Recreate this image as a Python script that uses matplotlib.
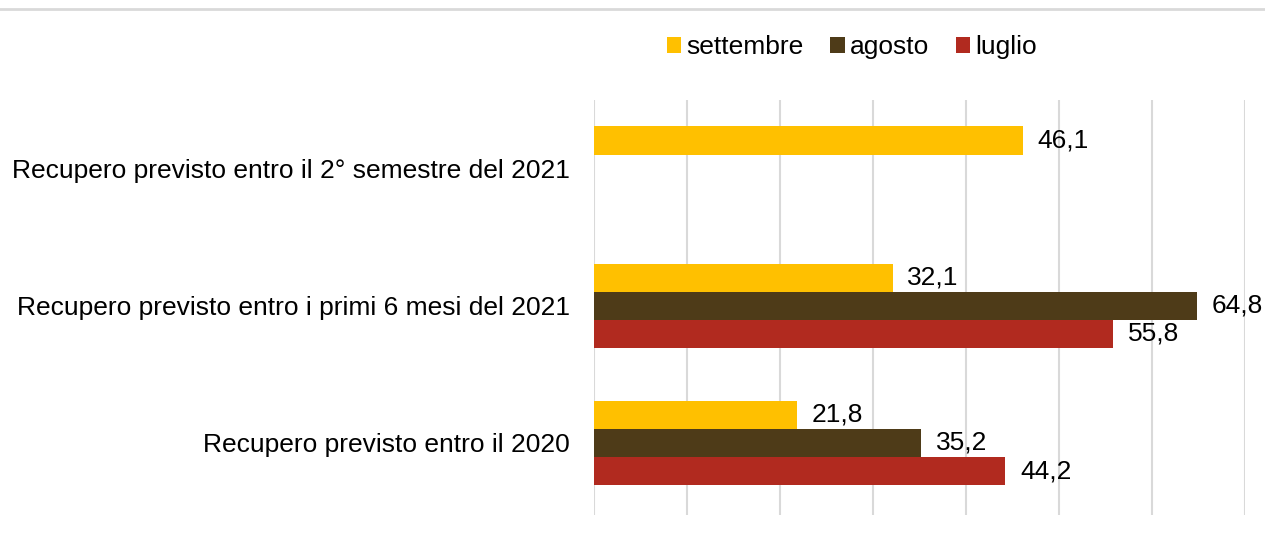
import numpy as np
import matplotlib
matplotlib.use('Agg')
import matplotlib.pyplot as plt
from matplotlib.lines import Line2D

plt.rcParams['font.family'] = ['Liberation Sans', 'DejaVu Sans']

# Data
categories = ['Recupero previsto entro il 2020',
              'Recupero previsto entro i primi 6 mesi del 2021',
              'Recupero previsto entro il 2° semestre del 2021']
series_names = ['settembre', 'agosto', 'luglio']
settembre = [21.8, 32.1, 46.1]
agosto = [35.2, 64.8, np.nan]
luglio = [44.2, 55.8, np.nan]
colors = ['#FFC000', '#4E3B18', '#B12A1F']

fs = 19

fig = plt.figure(figsize=(12.65, 5.34), dpi=100)
ax = fig.add_axes([594 / 1265, 1 - 515 / 534, (1245 - 594) / 1265, (515 - 100) / 534])

y = np.arange(len(categories))
h = 0.205
offsets = [h, 0, -h]
for name, vals, off, col in zip(series_names, [settembre, agosto, luglio], offsets, colors):
    ax.barh(y + off, vals, height=h, color=col, label=name, zorder=3)
    for yi, v in zip(y, vals):
        if not np.isnan(v):
            ax.text(v + 1.6, yi + off, f'{v:.1f}'.replace('.', ','),
                    va='center', ha='left', fontsize=fs, color='#000000')

ax.set_xlim(0, 70)
ax.set_ylim(-0.525, 2.5)
ax.set_xticks(np.arange(0, 71, 10))
ax.xaxis.grid(True, color='#D9D9D9', linewidth=1.5, zorder=0)
ax.tick_params(axis='x', bottom=False, labelbottom=False)
ax.tick_params(axis='y', left=False, labelsize=fs, pad=14)
ax.set_yticks(y)
ax.set_yticklabels(categories)
for s in ax.spines.values():
    s.set_visible(False)

fig.legend(loc='center', bbox_to_anchor=(852 / 1265, 1 - 47 / 534), ncol=3,
           frameon=False, fontsize=fs, handlelength=0.55, handleheight=0.55,
           handletextpad=0.2, columnspacing=1.0, borderaxespad=0)

fig.add_artist(Line2D([0, 1], [1 - 9 / 534, 1 - 9 / 534], color='#D9D9D9',
                      linewidth=2, transform=fig.transFigure))

fig.savefig('out.png', dpi=100)
